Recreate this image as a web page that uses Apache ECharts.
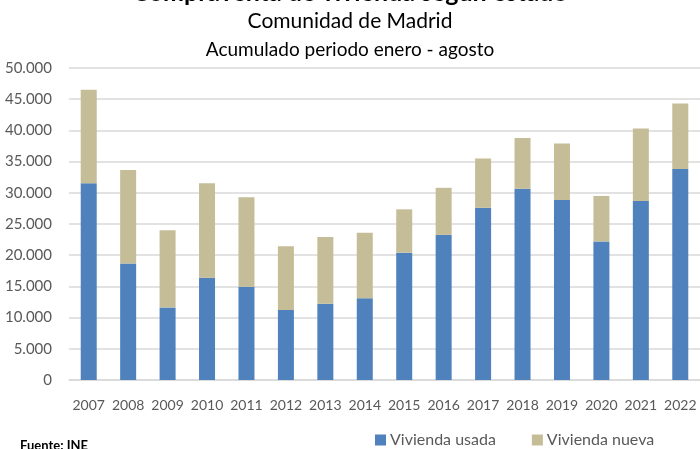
<!DOCTYPE html>
<html>
<head>
<meta charset="utf-8">
<script src="https://cdn.jsdelivr.net/npm/echarts@6/dist/echarts.min.js"></script>
<style>
  html, body { margin: 0; padding: 0; background: #fff; }
  #chart { width: 700px; height: 449px; }
</style>
</head>
<body>
<div id="chart"></div>
<script>
// Compraventa de vivienda, Comunidad de Madrid (enero - agosto)
const years = ['2007','2008','2009','2010','2011','2012','2013','2014','2015','2016','2017','2018','2019','2020','2021','2022'];
const viviendaUsada = [31550, 18670, 11600, 16400, 14950, 11200, 12200, 13100, 20400, 23250, 27600, 30650, 28850, 22200, 28700, 33800];
const viviendaNueva = [14950, 15000, 12400, 15150, 14350, 10250, 10700, 10500, 6950, 7550, 7900, 8150, 9050, 7300, 11600, 10500];
const yTicks = [0, 5000, 10000, 15000, 20000, 25000, 30000, 35000, 40000, 45000, 50000];

const FONT = 'Lato';
const fmt = v => String(v).replace(/\B(?=(\d{3})+(?!\d))/g, '.');

const chart = echarts.init(document.getElementById('chart'));
chart.setOption({
  animation: false,
  backgroundColor: '#ffffff',
  textStyle: { fontFamily: FONT },
  title: [
    { text: 'Compraventa de vivienda según estado', left: 'center', top: -25,
      textStyle: { fontFamily: FONT, fontSize: 25, fontWeight: 'bold', color: '#000' } },
    { text: 'Comunidad de Madrid', left: 'center', top: 6,
      textStyle: { fontFamily: FONT, fontSize: 21, fontWeight: 'normal', color: '#000' } },
    { text: 'Acumulado periodo enero - agosto', left: 'center', top: 35,
      textStyle: { fontFamily: FONT, fontSize: 19, fontWeight: 'normal', color: '#000' } },
    { text: 'Fuente: INE', left: 15, top: 434,
      textStyle: { fontFamily: FONT, fontSize: 13, fontWeight: 'bold', color: '#000' } }
  ],
  legend: {
    data: ['Vivienda usada', 'Vivienda nueva'],
    left: 370, top: 427,
    itemWidth: 11, itemHeight: 11, itemGap: 36,
    icon: 'rect',
    textStyle: { fontFamily: FONT, fontSize: 16, color: '#595959', padding: [0, 0, 0, -1] }
  },
  grid: { left: 69, right: 0, top: 68, bottom: 69, containLabel: false },
  xAxis: {
    type: 'category',
    data: years,
    axisLine: { show: true, lineStyle: { color: '#d9d9d9', width: 1.5 } },
    axisTick: { show: false },
    axisLabel: { interval: 0, fontFamily: FONT, fontSize: 14, color: '#595959', margin: 18 }
  },
  yAxis: {
    type: 'value',
    min: yTicks[0], max: yTicks[yTicks.length - 1], interval: yTicks[1] - yTicks[0],
    axisLine: { show: false },
    axisTick: { show: false },
    splitLine: { lineStyle: { color: '#d9d9d9', width: 1.5 } },
    axisLabel: { fontFamily: FONT, fontSize: 15, color: '#595959', margin: 17, formatter: v => fmt(v) }
  },
  series: [
    { name: 'Vivienda usada', type: 'bar', stack: 'total', data: viviendaUsada, barWidth: 16,
      itemStyle: { color: '#4F81BD' } },
    { name: 'Vivienda nueva', type: 'bar', stack: 'total', data: viviendaNueva, barWidth: 16,
      itemStyle: { color: '#C4BD97' } }
  ]
});
</script>
</body>
</html>
